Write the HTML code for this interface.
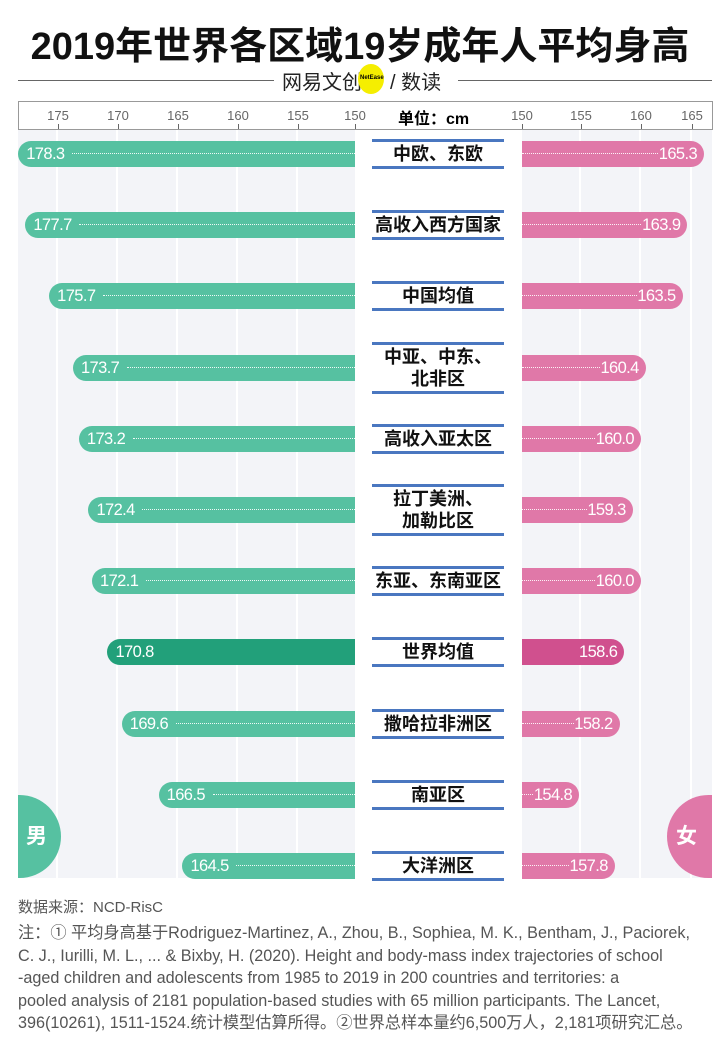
<!DOCTYPE html>
<html><head><meta charset="utf-8"><style>
body{margin:0;width:720px;height:1038px;background:#fff;font-family:"Liberation Sans","Noto Sans CJK SC",sans-serif;position:relative;overflow:hidden}
.a{position:absolute}
.col{position:absolute;top:130px;height:748px;background:#f3f4f8}
.bar{position:absolute;height:26px;color:#fff;font-size:16.5px;line-height:26px;letter-spacing:-0.6px}
.m{background:#56c1a1;border-radius:13px 0 0 13px}
.f{background:#e078a8;border-radius:0 13px 13px 0}
.dl{position:absolute;top:12px;border-top:1.5px dotted rgba(255,255,255,.9)}
.lab{position:absolute;left:372px;width:132px;border-top:3px solid #4a77c0;border-bottom:3px solid #4a77c0;background:#fff;text-align:center;font-size:18px;font-weight:bold;line-height:22px;color:#111;display:flex;align-items:center;justify-content:center}
.tk{position:absolute;top:108px;font-size:13px;color:#666;transform:translateX(-50%)}
.tm{position:absolute;top:124px;height:5px;border-left:1px solid #666}
</style></head><body>
<div class="a" style="top:15px;left:0;width:720px;text-align:center;font-size:38px;font-weight:bold;color:#111">2019年世界各区域19岁成年人平均身高</div>
<div class="a" style="top:80px;left:18px;width:256px;border-top:1px solid #666"></div>
<div class="a" style="top:80px;left:458px;width:254px;border-top:1px solid #666"></div>
<div class="a" style="top:66px;left:282px;font-size:20px;color:#222">网易文创</div>
<div class="a" style="top:64px;left:358px;width:26px;height:30px;border-radius:50%;background:#f5ee00"></div>
<div class="a" style="top:75px;left:360px;font-size:6px;font-weight:bold">NetEase</div>
<div class="a" style="top:66px;left:390px;font-size:20px;color:#222">/ 数读</div>
<div class="a" style="top:101px;left:18px;width:693px;height:27px;border:1px solid #999;background:#fff"></div>
<div class="a" style="top:105px;left:398px;font-size:16px;font-weight:bold">单位：cm</div>
<div class="col" style="left:18px;width:38px"></div>
<div class="col" style="left:58px;width:58px"></div>
<div class="col" style="left:118px;width:58px"></div>
<div class="col" style="left:178px;width:58px"></div>
<div class="col" style="left:238px;width:58px"></div>
<div class="col" style="left:298px;width:57px"></div>
<div class="col" style="left:522px;width:57px"></div>
<div class="col" style="left:581px;width:58px"></div>
<div class="col" style="left:641px;width:49px"></div>
<div class="col" style="left:692px;width:20px"></div>
<div id="t"></div>
<div id="rows"></div>
<div class="a" style="left:18px;top:795px;width:43px;height:83px;background:#56c1a1;border-radius:0 42px 42px 0;color:#fff;font-size:21px;font-weight:bold;line-height:83px;text-indent:8px">男</div>
<div class="a" style="left:667px;top:795px;width:45px;height:83px;background:#e078a8;border-radius:42px 0 0 42px;color:#fff;font-size:21px;font-weight:bold;line-height:83px;text-indent:9px">女</div>
<div class="a" style="top:896px;left:18px;font-size:15px;color:#555">数据来源：NCD-RisC</div>
<div class="a" style="top:922px;left:18px;width:700px;font-size:16.2px;line-height:22.5px;color:#555;white-space:nowrap">注：① 平均身高基于Rodriguez-Martinez, A., Zhou, B., Sophiea, M. K., Bentham, J., Paciorek,<br>C. J., Iurilli, M. L., ... &amp; Bixby, H. (2020). Height and body-mass index trajectories of school<br>-aged children and adolescents from 1985 to 2019 in 200 countries and territories: a<br>pooled analysis of 2181 population-based studies with 65 million participants. The Lancet,<br>396(10261), 1511-1524.统计模型估算所得。②世界总样本量约6,500万人，2,181项研究汇总。</div>
<script>
var t='';[[58,175],[118,170],[178,165],[238,160],[298,155],[355,150],[522,150],[581,155],[641,160],[692,165]].forEach(function(p){t+='<div class="tk" style="left:'+p[0]+'px">'+p[1]+'</div><div class="tm" style="left:'+p[0]+'px"></div>'});
document.getElementById('t').innerHTML=t;
var d=[["中欧、东欧",178.3,165.3],["高收入西方国家",177.7,163.9],["中国均值",175.7,163.5],["中亚、中东、<br>北非区",173.7,160.4],["高收入亚太区",173.2,160.0],["拉丁美洲、<br>加勒比区",172.4,159.3],["东亚、东南亚区",172.1,160.0],["世界均值",170.8,158.6],["撒哈拉非洲区",169.6,158.2],["南亚区",166.5,154.8],["大洋洲区",164.5,157.8]];
var h='';d.forEach(function(r,i){var c=154+i*71.2;var ml=Math.max(18,355-(r[1]-150)*11.9);var fw=Math.min(190,(r[2]-150)*11.9);var w=i==7;
h+='<div class="bar m" style="top:'+(c-13)+'px;left:'+ml+'px;width:'+(355-ml)+'px;'+(w?'background:#22a07a':'')+'"><span style="padding-left:8px">'+r[1].toFixed(1)+'</span>'+(w?'':'<div class="dl" style="left:54px;right:0"></div>')+'</div>';
h+='<div class="bar f" style="top:'+(c-13)+'px;left:522px;width:'+fw+'px;text-align:right;'+(w?'background:#d0508e':'')+'">'+(w?'':'<div class="dl" style="left:0;right:46px"></div>')+'<span style="padding-right:7px">'+r[2].toFixed(1)+'</span></div>';
var two=r[0].indexOf('<br>')>0;var hh=two?46:24;
h+='<div class="lab" style="top:'+(c-hh/2-3)+'px;height:'+hh+'px">'+r[0]+'</div>';});
document.getElementById('rows').innerHTML=h;
</script>
</body></html>
